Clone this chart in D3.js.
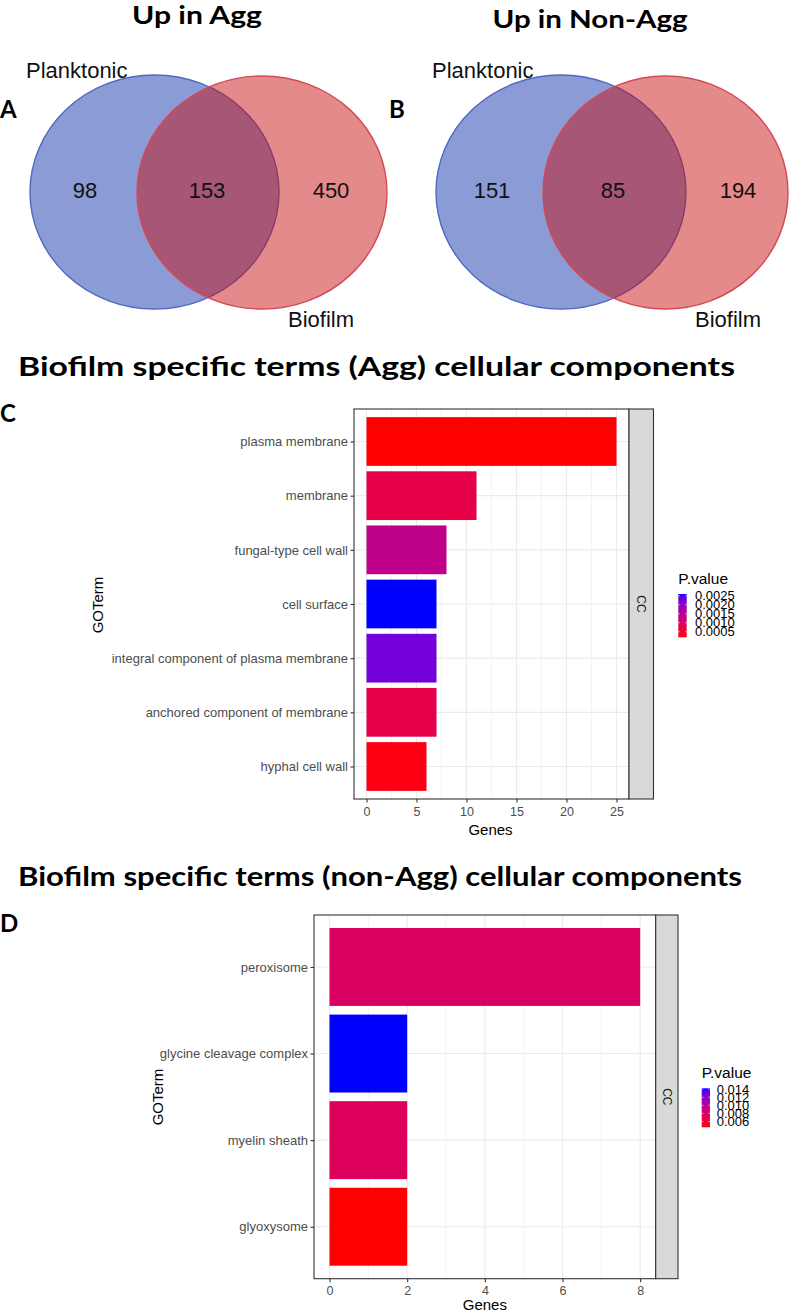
<!DOCTYPE html>
<html><head><meta charset="utf-8">
<script src="https://cdn.jsdelivr.net/npm/d3@7"></script>
<style>html,body{margin:0;padding:0;background:#fff;}svg{display:block;}</style>
</head><body>
<svg id="c" width="797" height="1313"></svg>
<script>
// ---------- data ----------
const vennSets = ["Planktonic", "Biofilm"];
const vennTitles = ["Up in Agg", "Up in Non-Agg"];
const vennACounts = [98, 153, 450];   // planktonic only, both, biofilm only
const vennBCounts = [151, 85, 194];

const termsC = ["plasma membrane", "membrane", "fungal-type cell wall", "cell surface",
  "integral component of plasma membrane", "anchored component of membrane", "hyphal cell wall"];
const genesC = [25, 11, 8, 7, 7, 7, 6];
const pvalC = [0.00019, 0.00072, 0.00142, 0.0026, 0.00224, 0.00074, 0.00026];
const ticksC = [0, 5, 10, 15, 20, 25];
const legendTicksC = [0.0005, 0.0010, 0.0015, 0.0020, 0.0025];
const legendLabelsC = ["0.0005", "0.0010", "0.0015", "0.0020", "0.0025"];

const termsD = ["peroxisome", "glycine cleavage complex", "myelin sheath", "glyoxysome"];
const genesD = [8, 2, 2, 2];
const pvalD = [0.00777, 0.0142, 0.00748, 0.0046];
const ticksD = [0, 2, 4, 6, 8];
const legendTicksD = [0.006, 0.008, 0.010, 0.012, 0.014];
const legendLabelsD = ["0.006", "0.008", "0.010", "0.012", "0.014"];

const panelTitles = ["Biofilm specific terms (Agg) cellular components",
  "Biofilm specific terms (non-Agg) cellular components"];

// ---------- drawing ----------
const svg = d3.select("#c");
const SANS = "'Liberation Sans', Arial, sans-serif";
const BOLD = "Lato, 'Open Sans', sans-serif";

function bigText(x, y, txt, size, len, anchor) {
  const t = svg.append("text").attr("x", x).attr("y", y).text(txt)
    .attr("font-family", BOLD).attr("font-weight", 700).attr("font-size", size)
    .attr("fill", "#000").attr("text-anchor", anchor || "start");
  if (len) t.attr("textLength", len).attr("lengthAdjust", "spacingAndGlyphs");
  return t;
}

// Venn diagrams
function venn(cfg, counts, title) {
  const g = svg.append("g");
  bigText(cfg.titleX, cfg.titleY, title, 25, cfg.titleLen, "middle");
  g.append("ellipse").attr("cx", cfg.b[0]).attr("cy", 192).attr("rx", cfg.b[1]).attr("ry", 117)
    .attr("fill", "#8a9bd6").attr("stroke", "#5068c4").attr("stroke-width", 1.4);
  g.append("ellipse").attr("cx", cfg.r[0]).attr("cy", 192.5).attr("rx", cfg.r[1]).attr("ry", 116.5)
    .attr("fill", "rgba(200,10,10,0.48)").attr("stroke", "#d24a55").attr("stroke-width", 1.4);
  const nx = cfg.nums;
  counts.forEach((c, i) => {
    g.append("text").attr("x", nx[i]).attr("y", 198).attr("text-anchor", "middle")
      .attr("font-family", SANS).attr("font-size", 22).attr("fill", "#111").text(c);
  });
  g.append("text").attr("x", cfg.pl).attr("y", 78).attr("font-family", SANS).attr("font-size", 22)
    .attr("fill", "#111").text(vennSets[0]);
  g.append("text").attr("x", cfg.bf).attr("y", 327).attr("font-family", SANS).attr("font-size", 22)
    .attr("fill", "#111").text(vennSets[1]);
}
venn({titleX: 197, titleY: 24, titleLen: 130, b: [154.5, 124.5], r: [262, 125],
  nums: [85, 207, 331], pl: 26, bf: 288}, vennACounts, vennTitles[0]);
venn({titleX: 590, titleY: 28, titleLen: 195, b: [561, 125], r: [665.5, 122.5],
  nums: [492, 613, 738], pl: 432, bf: 695}, vennBCounts, vennTitles[1]);
bigText(0, 118, "A", 24);
bigText(389, 118, "B", 24);

// Bar charts
function barChart(cfg, terms, genes, pvals, ticks, legTicks, legLabels) {
  const g = svg.append("g");
  const x = d3.scaleLinear().domain(cfg.xdom).range([cfg.left, cfg.right]);
  const y = d3.scalePoint().domain(terms).range([cfg.top, cfg.bottom]).padding(0.6);
  const step = y.step();
  const ext = d3.extent(pvals);
  const color = d3.scaleLinear().domain(ext).range(["red", "blue"]).interpolate(d3.interpolateLab);

  g.append("rect").attr("x", cfg.left).attr("y", cfg.top).attr("width", cfg.right - cfg.left)
    .attr("height", cfg.bottom - cfg.top).attr("fill", "#fff");
  const minor = d3.range(ticks.length - 1).map(i => (ticks[i] + ticks[i + 1]) / 2);
  g.selectAll(".mn").data(minor).join("line")
    .attr("x1", d => x(d)).attr("x2", d => x(d)).attr("y1", cfg.top).attr("y2", cfg.bottom)
    .attr("stroke", "#ebebeb").attr("stroke-width", 0.6);
  g.selectAll(".mjx").data(ticks).join("line")
    .attr("x1", d => x(d)).attr("x2", d => x(d)).attr("y1", cfg.top).attr("y2", cfg.bottom)
    .attr("stroke", "#ebebeb").attr("stroke-width", 1.1);
  g.selectAll(".mjy").data(terms).join("line")
    .attr("x1", cfg.left).attr("x2", cfg.right).attr("y1", d => y(d)).attr("y2", d => y(d))
    .attr("stroke", "#ebebeb").attr("stroke-width", 1.1);
  g.selectAll(".bar").data(terms).join("rect")
    .attr("x", x(0)).attr("y", d => y(d) - step * 0.45)
    .attr("width", (d, i) => x(genes[i]) - x(0)).attr("height", step * 0.9)
    .attr("fill", (d, i) => color(pvals[i]));
  g.append("rect").attr("x", cfg.left).attr("y", cfg.top).attr("width", cfg.right - cfg.left)
    .attr("height", cfg.bottom - cfg.top).attr("fill", "none").attr("stroke", "#333").attr("stroke-width", 1.1);
  g.append("rect").attr("x", cfg.right).attr("y", cfg.top).attr("width", cfg.stripW)
    .attr("height", cfg.bottom - cfg.top).attr("fill", "#d9d9d9").attr("stroke", "#333").attr("stroke-width", 1.1);
  const sx = cfg.right + cfg.stripW / 2, sy = (cfg.top + cfg.bottom) / 2;
  g.append("text").attr("transform", `translate(${sx},${sy}) rotate(90)`)
    .attr("text-anchor", "middle").attr("dominant-baseline", "central")
    .attr("font-family", SANS).attr("font-size", 12).attr("fill", "#1a1a1a").text("CC");

  const ax = g.append("g").attr("transform", `translate(0,${cfg.bottom})`)
    .call(d3.axisBottom(x).tickValues(ticks).tickSize(3.5).tickPadding(cfg.xpad).tickFormat(d3.format("d")));
  const ay = g.append("g").attr("transform", `translate(${cfg.left},0)`)
    .call(d3.axisLeft(y).tickSize(3.5).tickPadding(2.5));
  [ax, ay].forEach(a => {
    a.select(".domain").remove();
    a.selectAll(".tick line").attr("stroke", "#333").attr("stroke-width", 1.1);
    a.selectAll(".tick text").attr("fill", "#4d4d4d").attr("font-family", SANS).attr("font-size", 12.5);
  });
  ay.selectAll(".tick text").attr("font-size", 13);
  g.append("text").attr("x", x(cfg.xmid)).attr("y", cfg.genesY).attr("text-anchor", "middle")
    .attr("font-family", SANS).attr("font-size", 15).attr("fill", "#000").text("Genes");
  g.append("text").attr("transform", `translate(${cfg.goX},${cfg.goY}) rotate(-90)`)
    .attr("text-anchor", "middle").attr("dominant-baseline", "central")
    .attr("font-family", SANS).attr("font-size", 15).attr("fill", "#000").text("GOTerm");

  const L = cfg.leg;
  const ly = d3.scaleLinear().domain(ext).range([L.y1, L.y0]);
  const gid = "grad" + cfg.id;
  const grad = svg.append("defs").append("linearGradient").attr("id", gid)
    .attr("x1", 0).attr("y1", 1).attr("x2", 0).attr("y2", 0);
  d3.range(0, 1.0001, 0.05).forEach(t => {
    grad.append("stop").attr("offset", t).attr("stop-color", color(ext[0] + t * (ext[1] - ext[0])));
  });
  g.append("text").attr("x", L.x).attr("y", L.titleY).attr("font-family", SANS).attr("font-size", 15.5)
    .attr("fill", "#000").text("P.value");
  g.append("rect").attr("x", L.x).attr("y", L.y0).attr("width", L.w).attr("height", L.y1 - L.y0)
    .attr("fill", `url(#${gid})`);
  legTicks.forEach((v, i) => {
    const yy = ly(v);
    g.append("line").attr("x1", L.x).attr("x2", L.x + 1.6).attr("y1", yy).attr("y2", yy)
      .attr("stroke", "#fff").attr("stroke-width", 0.6);
    g.append("line").attr("x1", L.x + L.w - 1.6).attr("x2", L.x + L.w).attr("y1", yy).attr("y2", yy)
      .attr("stroke", "#fff").attr("stroke-width", 0.6);
    g.append("text").attr("x", L.lx).attr("y", yy).attr("dominant-baseline", "central")
      .attr("font-family", SANS).attr("font-size", 13).attr("fill", "#000").text(legLabels[i]);
  });
}

bigText(18, 376, panelTitles[0], 26, 717);
bigText(0, 422, "C", 24);
barChart({id: "C", xdom: [-1.25, 26.25], left: 354, right: 629, top: 409, bottom: 799, stripW: 24.5,
  xmid: 12.4, genesY: 835, goX: 97, goY: 605, xpad: 5,
  leg: {x: 678.3, w: 8.4, y0: 594, y1: 637.3, titleY: 584, lx: 695}},
  termsC, genesC, pvalC, ticksC, legendTicksC, legendLabelsC);

bigText(18, 886, panelTitles[1], 26, 724);
bigText(0, 932, "D", 24);
barChart({id: "D", xdom: [-0.4, 8.4], left: 314, right: 655.7, top: 915, bottom: 1278.7, stripW: 22.3,
  xmid: 4, genesY: 1309.5, goX: 157, goY: 1097, xpad: 4,
  leg: {x: 701.7, w: 8.3, y0: 1088.3, y1: 1127.3, titleY: 1078, lx: 716.7}},
  termsD, genesD, pvalD, ticksD, legendTicksD, legendLabelsD);
</script>
</body></html>
